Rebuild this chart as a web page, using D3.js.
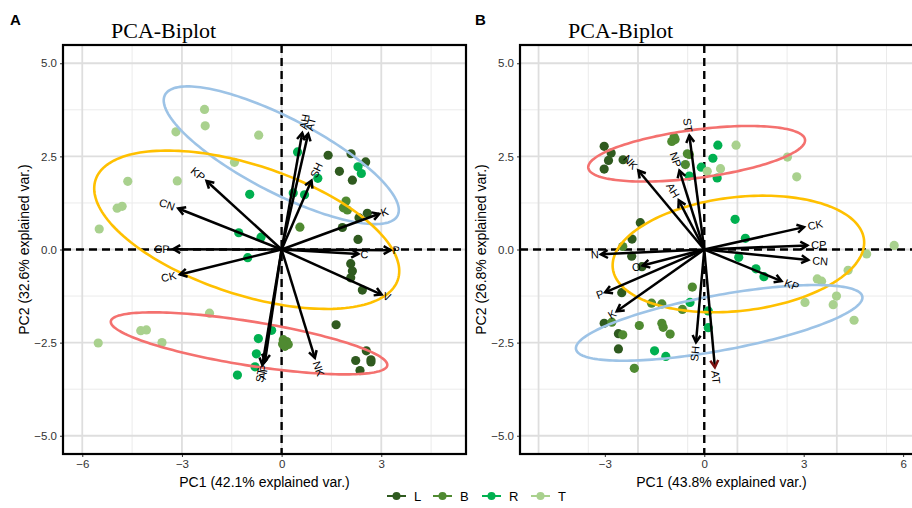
<!DOCTYPE html>
<html>
<head>
<meta charset="utf-8">
<script src="https://cdn.jsdelivr.net/npm/d3@7"></script>
<style>
  body { margin: 0; background: #fff; }
  svg { display: block; }
  .tick text { font-family: 'Liberation Sans', Arial, sans-serif; font-size: 11.5px; fill: #333; }
  .tick line { stroke: #333; }
</style>
</head>
<body>
<div id="chart"></div>
<script>
// group names and colours
let groups = ['L', 'B', 'R', 'T']
let groupColors = ['#2f5a1f', '#4f8a31', '#00b050', '#a9d18e']

// ---- panel A values ----
let pointsA_L = [[1.40, 2.53], [2.09, 2.57], [2.53, 2.35], [1.74, 2.10], [2.13, 1.86], [2.58, 0.97], [2.33, 0.85], [1.83, 0.59], [2.30, 0.27], [2.08, -0.38], [2.13, -0.58], [2.08, -0.76], [2.43, -1.09], [1.64, -2.02], [2.55, -2.72], [2.23, -2.98], [2.69, -2.96], [2.69, -3.02], [2.36, -3.25]]
let pointsA_B = [[1.94, 1.30], [1.86, 1.12], [1.98, 1.06], [0.55, 0.60], [0.05, -2.42], [0.15, -2.47], [0.10, -2.60], [0.20, -2.55], [0.03, -2.54]]
let pointsA_R = [[0.48, 2.62], [1.09, 1.91], [0.35, 1.52], [0.69, 1.47], [-0.96, 1.48], [-1.29, 0.45], [-0.62, 0.33], [2.30, 2.22], [2.40, 2.04], [-1.02, -0.22], [-0.30, -2.17], [-0.70, -2.39], [-0.76, -2.80], [-0.80, -3.15], [-1.33, -3.37]]
let pointsA_T = [[-2.32, 3.76], [-2.30, 3.32], [-3.18, 3.16], [-0.69, 3.07], [-1.42, 2.34], [-4.63, 1.83], [-3.14, 1.84], [-4.95, 1.11], [-4.80, 1.16], [-5.49, 0.55], [-2.17, -1.71], [-4.24, -2.18], [-4.07, -2.16], [-5.52, -2.51], [-3.60, -2.50]]
let varsA = ['AH', 'AT', 'SH', 'KP', 'CN', 'K', 'CP', 'P', 'C', 'CK', 'V', 'NK', 'ST', 'AP']
let loadingsA = [[0.62, 3.13], [0.80, 3.11], [0.90, 1.85], [-2.26, 1.84], [-3.11, 1.10], [2.94, 0.96], [-3.26, 0.01], [3.28, -0.02], [2.31, -0.12], [-3.06, -0.67], [3.01, -1.21], [1.00, -2.91], [-0.58, -3.10], [-0.50, -3.00]]
// ellipses: centre, major half-vector, conjugate half-vector (data units)
let ellipsesA = [
  { color: '#9dc3e6', c: [-0.01, 2.53], u: [3.5, -1.62], v: [-0.52, -0.89] },
  { color: '#ffc000', c: [-1.05, 0.53], u: [4.55, -1.34], v: [-0.61, -1.65] },
  { color: '#f4716f', c: [-0.98, -2.52], u: [4.16, -0.594], v: [-0.105, -0.584] }
]

// ---- panel B values ----
let pointsB_L = [[-3.02, 2.77], [-2.81, 2.59], [-2.89, 2.39], [-3.02, 2.16], [-2.45, 2.41], [-1.93, 0.72], [-2.18, 0.28], [-2.19, -0.18], [-1.88, -0.46], [-2.49, -1.16], [-3.02, -1.98], [-2.59, -2.26], [-2.59, -2.67]]
let pointsB_B = [[-0.91, 3.02], [-0.88, 2.95], [-0.98, 2.90], [-0.51, 2.57], [-0.45, 2.55], [-0.57, 2.28], [-2.46, 0.08], [-0.36, -1.01], [-1.59, -1.44], [-1.28, -1.46], [-0.66, -1.61], [-2.79, -1.95], [-1.96, -2.04], [-1.28, -1.98], [-1.24, -2.09], [-1.03, -2.27], [-2.11, -3.19], [-2.46, -2.29]]
let pointsB_R = [[0.41, 2.80], [0.26, 2.45], [-0.09, 2.21], [-0.45, 1.97], [0.39, 1.92], [0.93, 0.81], [1.24, 0.30], [1.04, -0.21], [1.56, -0.52], [1.80, -0.73], [-0.43, -1.42], [0.12, -1.65], [0.12, -2.10], [-1.50, -2.72], [-1.16, -2.87]]
let pointsB_T = [[0.96, 2.80], [0.09, 2.10], [0.49, 2.17], [2.51, 2.48], [2.79, 1.95], [5.73, 0.11], [4.90, -0.12], [4.34, -0.56], [3.41, -0.79], [3.54, -0.85], [3.04, -1.42], [3.99, -1.25], [3.89, -1.48], [4.52, -1.90]]
let varsB = ['ST', 'NP', 'NK', 'AH', 'CK', 'CP', 'N', 'CN', 'O', 'KP', 'P', 'K', 'SH', 'AT']
let loadingsB = [[-0.45, 3.06], [-0.75, 2.12], [-1.99, 2.12], [-0.77, 1.32], [3.01, 0.60], [3.11, 0.11], [-3.12, -0.13], [3.14, -0.28], [-1.86, -0.43], [2.33, -0.85], [-2.99, -1.15], [-2.64, -1.66], [-0.25, -2.49], [0.32, -3.16]]
let ellipsesB = [
  { color: '#f4716f', c: [-0.23, 2.57], u: [3.27, 0.38], v: [0.094, -0.642] },
  { color: '#ffc000', c: [1.03, -0.12], u: [3.79, 0.385], v: [0.193, -1.517] },
  { color: '#9dc3e6', c: [0.45, -1.97], u: [4.32, 0.707], v: [0.15, -0.73] }
]

// axis ticks / grid
let xTicks = [-6, -3, 0, 3, 6]
let yTicks = [-5, -2.5, 0, 2.5, 5]
let yMinor = [-3.75, -1.25, 1.25, 3.75]
let xMajorA = [-6, -3, 0, 3]
let xMinorA = [-4.5, -1.5, 1.5, 4.5]
let xMajorB = [-5, -2, 1, 4]
let xMinorB = [-3.5, -0.5, 2.5, 5.5]

let fontSans = "'Liberation Sans', Arial, sans-serif"
let fontSerif = "'Liberation Serif', 'Times New Roman', serif"

let svg = d3
  .select('#chart')
  .append('svg')
  .attr('width', 912)
  .attr('height', 508)

function drawPanel(cfg) {
  let width = 403
  let height = 409
  let xScale = d3.scaleLinear().domain(cfg.xDomain).range([0, width])
  let yScale = d3.scaleLinear().domain([-5.49, 5.49]).range([height, 0])

  let g = svg
    .append('g')
    .attr('transform', 'translate(' + cfg.left + ',' + cfg.top + ')')

  g.append('clipPath')
    .attr('id', 'clip-' + cfg.tag)
    .append('rect')
    .attr('width', width)
    .attr('height', height)

  let inner = g.append('g').attr('clip-path', 'url(#clip-' + cfg.tag + ')')

  // grid
  inner.selectAll('.gx-minor')
    .data(cfg.xMinor)
    .enter()
    .append('line')
    .attr('x1', d => xScale(d)).attr('x2', d => xScale(d))
    .attr('y1', 0).attr('y2', height)
    .attr('stroke', '#ebebeb').attr('stroke-width', 1)
  inner.selectAll('.gy-minor')
    .data(yMinor)
    .enter()
    .append('line')
    .attr('y1', d => yScale(d)).attr('y2', d => yScale(d))
    .attr('x1', 0).attr('x2', width)
    .attr('stroke', '#ebebeb').attr('stroke-width', 1)
  inner.selectAll('.gx-major')
    .data(cfg.xMajor)
    .enter()
    .append('line')
    .attr('x1', d => xScale(d)).attr('x2', d => xScale(d))
    .attr('y1', 0).attr('y2', height)
    .attr('stroke', '#dedede').attr('stroke-width', 1.8)
  inner.selectAll('.gy-major')
    .data(yTicks)
    .enter()
    .append('line')
    .attr('y1', d => yScale(d)).attr('y2', d => yScale(d))
    .attr('x1', 0).attr('x2', width)
    .attr('stroke', '#dedede').attr('stroke-width', 1.8)

  // dashed reference lines
  inner.append('line')
    .attr('x1', xScale(0)).attr('x2', xScale(0))
    .attr('y1', 0).attr('y2', height)
    .attr('stroke', '#000').attr('stroke-width', 2.4)
    .attr('stroke-dasharray', '8,5')
  inner.append('line')
    .attr('y1', yScale(0)).attr('y2', yScale(0))
    .attr('x1', 0).attr('x2', width)
    .attr('stroke', '#000').attr('stroke-width', 2.4)
    .attr('stroke-dasharray', '8,5')

  // points
  cfg.points.forEach((pts, i) => {
    inner.append('g')
      .selectAll('circle')
      .data(pts)
      .enter()
      .append('circle')
      .attr('cx', d => xScale(d[0]))
      .attr('cy', d => yScale(d[1]))
      .attr('r', 4.6)
      .attr('fill', groupColors[i])
  })

  // ellipses
  let ellipseLine = d3.line()
    .x(d => xScale(d[0]))
    .y(d => yScale(d[1]))
    .curve(d3.curveLinearClosed)
  cfg.ellipses.forEach(e => {
    let pts = d3.range(0, 2 * Math.PI, Math.PI / 90).map(t => [
      e.c[0] + e.u[0] * Math.cos(t) + e.v[0] * Math.sin(t),
      e.c[1] + e.u[1] * Math.cos(t) + e.v[1] * Math.sin(t)
    ])
    inner.append('path')
      .attr('d', ellipseLine(pts))
      .attr('fill', 'none')
      .attr('stroke', e.color)
      .attr('stroke-width', 2.6)
  })

  // arrows
  let x0 = xScale(0)
  let y0 = yScale(0)
  cfg.loadings.forEach((d, i) => {
    let tx = xScale(d[0])
    let ty = yScale(d[1])
    let ang = Math.atan2(ty - y0, tx - x0)
    let headLen = 8
    let headColor = cfg.vars[i] === 'AT' && cfg.tag === 'B' ? '#7a1010' : '#000'
    inner.append('line')
      .attr('x1', x0).attr('y1', y0)
      .attr('x2', tx).attr('y2', ty)
      .attr('stroke', '#000').attr('stroke-width', 2.5)
    let p1 = [tx - headLen * Math.cos(ang - Math.PI / 6), ty - headLen * Math.sin(ang - Math.PI / 6)]
    let p2 = [tx - headLen * Math.cos(ang + Math.PI / 6), ty - headLen * Math.sin(ang + Math.PI / 6)]
    inner.append('path')
      .attr('d', 'M' + p1 + 'L' + tx + ',' + ty + 'L' + p2)
      .attr('fill', 'none')
      .attr('stroke', headColor)
      .attr('stroke-width', 2.5)
      .attr('stroke-linejoin', 'miter')

    // label, rotated like ggbiplot
    let angle = (180 / Math.PI) * Math.atan(d[1] / d[0])
    let label = inner.append('text')
      .attr('font-family', fontSans)
      .attr('font-size', 11)
      .attr('fill', '#000')
      .attr('dy', '0.35em')
      .attr('text-anchor', d[0] > 0 ? 'start' : 'end')
      .text(cfg.vars[i])
    let w = label.node().getComputedTextLength()
    let shift = d[0] > 0 ? 0.25 * w : -0.25 * w
    label.attr('transform', 'translate(' + tx + ',' + ty + ') rotate(' + (-angle) + ') translate(' + shift + ',0)')
  })

  // axes
  let xAxis = d3.axisBottom(xScale).tickValues(xTicks.filter(t => t >= cfg.xDomain[0] && t <= cfg.xDomain[1])).tickSize(3).tickPadding(3).tickFormat(d3.format('d'))
  g.append('g')
    .attr('transform', 'translate(0,' + height + ')')
    .call(xAxis)
    .call(a => a.select('.domain').remove())
  let yAxis = d3.axisLeft(yScale).tickValues(yTicks).tickSize(3).tickPadding(3).tickFormat(d3.format('.1f'))
  g.append('g')
    .call(yAxis)
    .call(a => a.select('.domain').remove())

  // panel border
  g.append('rect')
    .attr('width', width)
    .attr('height', height)
    .attr('fill', 'none')
    .attr('stroke', '#000')
    .attr('stroke-width', 2.2)

  // titles
  g.append('text')
    .attr('x', width / 2)
    .attr('y', height + 33)
    .attr('text-anchor', 'middle')
    .attr('font-family', fontSans)
    .attr('font-size', 14)
    .attr('fill', '#000')
    .text(cfg.xTitle)
  g.append('text')
    .attr('transform', 'translate(' + cfg.yTitleX + ',' + height / 2 + ') rotate(-90)')
    .attr('text-anchor', 'middle')
    .attr('font-family', fontSans)
    .attr('font-size', 14)
    .attr('fill', '#000')
    .text(cfg.yTitle)
  g.append('text')
    .attr('x', cfg.titleX)
    .attr('y', -7)
    .attr('font-family', fontSerif)
    .attr('font-size', 22)
    .attr('fill', '#000')
    .text('PCA-Biplot')
  g.append('text')
    .attr('x', cfg.tagX)
    .attr('y', -20)
    .attr('font-family', fontSans)
    .attr('font-weight', 'bold')
    .attr('font-size', 15)
    .attr('fill', '#000')
    .text(cfg.tag)
}

drawPanel({
  tag: 'A',
  left: 63,
  top: 45,
  xDomain: [-6.58, 5.55],
  xMajor: xMajorA,
  xMinor: xMinorA,
  points: [pointsA_L, pointsA_B, pointsA_R, pointsA_T],
  vars: varsA,
  loadings: loadingsA,
  ellipses: ellipsesA,
  xTitle: 'PC1 (42.1% explained var.)',
  yTitle: 'PC2 (32.6% explained var.)',
  yTitleX: -34,
  titleX: 48,
  tagX: -53
})

drawPanel({
  tag: 'B',
  left: 520,
  top: 45,
  xDomain: [-5.56, 6.60],
  xMajor: xMajorB,
  xMinor: xMinorB,
  points: [pointsB_L, pointsB_B, pointsB_R, pointsB_T],
  vars: varsB,
  loadings: loadingsB,
  ellipses: ellipsesB,
  xTitle: 'PC1 (43.8% explained var.)',
  yTitle: 'PC2 (26.8% explained var.)',
  yTitleX: -34,
  titleX: 48,
  tagX: -45
})

// legend
let legendKeyX = [387, 433, 482, 531]
let legend = svg.append('g').attr('transform', 'translate(0,496)')
groups.forEach((grp, i) => {
  let item = legend.append('g').attr('transform', 'translate(' + legendKeyX[i] + ',0)')
  item.append('line')
    .attr('x1', 0).attr('x2', 19)
    .attr('stroke', groupColors[i]).attr('stroke-width', 2)
  item.append('circle')
    .attr('cx', 9.5).attr('r', 4)
    .attr('fill', groupColors[i])
  item.append('text')
    .attr('x', 27)
    .attr('dy', '0.36em')
    .attr('font-family', fontSans)
    .attr('font-size', 13)
    .attr('fill', '#000')
    .text(grp)
})
</script>
</body>
</html>
